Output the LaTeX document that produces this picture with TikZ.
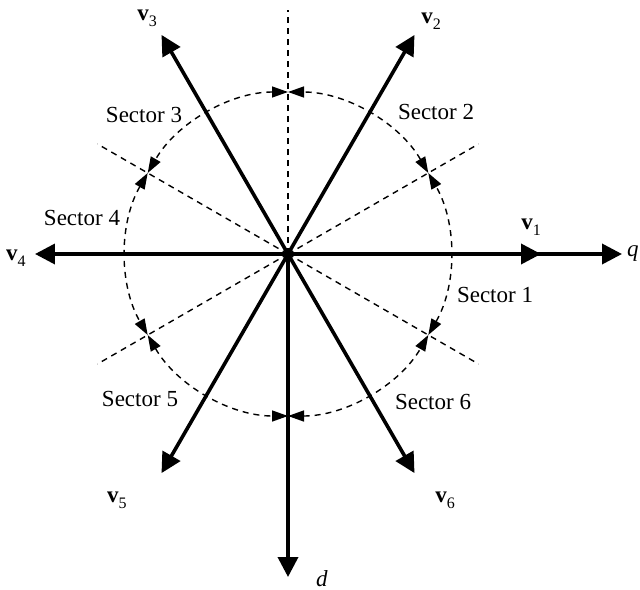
\documentclass[tikz,border=0pt]{standalone}
\usepackage{fontspec}
\setmainfont{Liberation Serif}
\usetikzlibrary{arrows.meta}
\newcommand{\vlab}[1]{\textbf{v}\raisebox{-0.6ex}{\fontsize{8}{8}\selectfont #1}}

\begin{document}
\begin{tikzpicture}[x=0.5pt, y=0.5pt, font=\fontsize{11.5}{13}\selectfont,
	vec/.style={line width=1.8pt, -{Triangle[length=10pt,width=10pt]}},
	border/.style={line width=0.7pt, dash pattern=on 3pt off 2.5pt},
	secarc/.style={border, {Triangle[length=8pt,width=5.5pt]}-{Triangle[length=8pt,width=5.5pt]}}]
	\useasboundingbox (-288,-335) rectangle (352,254);
	\coordinate (O) at (0,0);
	% sector borders and arcs
	\foreach \a/\r in {30/220, 90/244, 150/220, 210/220, 330/220}
		\draw[border] (O) -- (\a:\r);
	\foreach \a in {-30,30,90,150,210,270}
		\draw[secarc] (\a:162) arc[start angle=\a, end angle=\a+60, radius=162];
	% axes
	\coordinate (q) at (0:334); \coordinate (d) at (270:323);
	\draw[vec] (O) -- (q);
	\draw[vec] (O) -- (d);
	% voltage vectors
	\foreach \i in {1,...,6}{
		\coordinate (v\i) at ({(\i-1)*60}:253);
		\draw[vec] (O) -- (v\i);}
	% labels
	\node (lv1) at (243,27) {\vlab{1}};
	\node (lv2) at (143,233) {\vlab{2}};
	\node (lv3) at (-141,236) {\vlab{3}};
	\node (lv4) at (-272,-4) {\vlab{4}};
	\node (lv5) at (-171,-246) {\vlab{5}};
	\node (lv6) at (157,-246) {\vlab{6}};
	\node[anchor=east, inner sep=0.5pt] (lq) at (352,0) {\textit{q}};
	\node (ld) at (34,-325) {\textit{d}};
	\node (s1) at (207,-41) {Sector 1};
	\node (s2) at (148,142) {Sector 2};
	\node (s3) at (-144,139) {Sector 3};
	\node (s4) at (-206,36) {Sector 4};
	\node (s5) at (-148,-145) {Sector 5};
	\node (s6) at (145,-148) {Sector 6};
\end{tikzpicture}
\end{document}
